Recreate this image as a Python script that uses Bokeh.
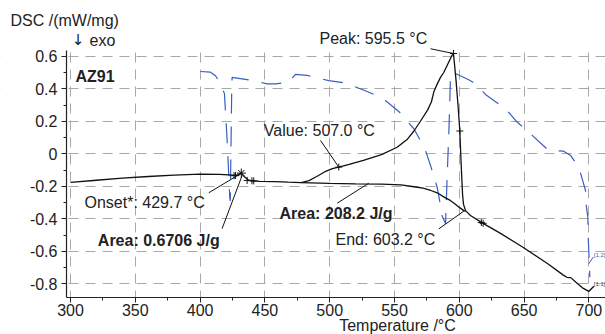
from bokeh.plotting import figure
from bokeh.models import Label, FixedTicker, Range1d, BoxAnnotation
from bokeh.embed import file_html
from bokeh.resources import INLINE

# --- data ---
dsc_T = [300, 320, 340, 360, 380, 400, 415, 422, 427.3, 429.5, 431.8, 434, 437.3, 441, 446, 458, 468, 478,
         484, 490, 496, 502, 507, 515, 526, 540, 552, 560, 565, 570, 575.6, 578.5, 580.5, 583, 585.5, 588,
         591.6, 594, 595.5, 597.5, 599, 600.4, 601.3, 602.5, 603.2, 604.8, 608.6, 617.7, 631.8, 650, 668,
         680, 683, 686, 690, 695, 699.9, 703.8]
dsc_v = [-0.176, -0.163, -0.150, -0.140, -0.131, -0.125, -0.127, -0.130, -0.133, -0.128, -0.119, -0.140,
         -0.162, -0.167, -0.170, -0.172, -0.175, -0.177, -0.165, -0.140, -0.112, -0.092, -0.082, -0.066,
         -0.040, -0.005, 0.040, 0.090, 0.140, 0.200, 0.270, 0.320, 0.385, 0.430, 0.470, 0.500, 0.560, 0.600,
         0.617, 0.450, 0.300, 0.140, -0.040, -0.250, -0.310, -0.350, -0.380, -0.425, -0.490, -0.580, -0.675,
         -0.745, -0.760, -0.762, -0.790, -0.825, -0.847, -0.815]

base_T = [478, 500, 520, 540, 555, 565, 572, 578, 583, 588, 593, 596, 600, 603.5, 604.8]
base_v = [-0.177, -0.182, -0.185, -0.187, -0.192, -0.203, -0.212, -0.226, -0.240, -0.265, -0.287, -0.305,
          -0.330, -0.350, -0.355]

ddsc_T = [400.3, 408, 411.9, 415.7, 418.8, 420.9, 422.9, 423.3, 423.8, 424.4, 424.7, 441, 451.8, 458.2, 468.4,
          473.6, 482.6, 494.2, 499.3, 512.2, 528.4, 539.2, 544.4, 553.3, 564.9, 571.4, 573.9, 577.8, 582.9,
          585.5, 586.6, 589.4, 590.6, 591.9, 592.7, 593.2, 594, 596.3, 607.3, 612.5, 620.2, 635.6, 643.4,
          647.2, 656.2, 669, 680.6, 685.8, 692.2, 697.4, 698.1, 699.2, 699.3, 700, 700.7]
ddsc_v = [0.506, 0.502, 0.480, 0.430, 0.370, 0.080, -0.270, -0.290, 0.020, 0.390, 0.470, 0.450, 0.430, 0.430,
          0.440, 0.488, 0.482, 0.460, 0.450, 0.435, 0.385, 0.348, 0.318, 0.260, 0.154, 0.062, 0.020, -0.072,
          -0.206, -0.318, -0.380, -0.430, -0.144, 0.123, 0.330, 0.490, 0.500, 0.496, 0.455, 0.430, 0.365,
          0.277, 0.205, 0.177, 0.113, 0.020, 0.016, -0.010, -0.082, -0.226, -0.330, -0.390, -0.480, -0.615,
          -0.760]

marker_T = [426.2, 427.3, 436.3, 440.0, 441.4, 507.0, 595.5, 600.4, 617.0, 618.4]
marker_v = [-0.135, -0.133, -0.164, -0.166, -0.167, -0.082, 0.617, 0.140, -0.423, -0.428]
onset_T = [431.8]
onset_v = [-0.119]

x_ticks = [300, 350, 400, 450, 500, 550, 600, 650, 700]
x_minor = [325, 375, 425, 475, 525, 575, 625, 675]
y_ticks = [-0.8, -0.6, -0.4, -0.2, 0.0, 0.2, 0.4, 0.6]
y_minor = [-0.7, -0.5, -0.3, -0.1, 0.1, 0.3, 0.5]
y_tick_labels = ["-0.8", "-0.6", "-0.4", "-0.2", "0", "0.2", "0.4", "0.6"]

# annotations
ann_text = ["Peak: 595.5 °C", "Value: 507.0 °C", "Onset*: 429.7 °C", "Area: 0.6706 J/g",
            "Area: 208.2 J/g", "End: 603.2 °C"]
ann_x = [492.1, 449.2, 310.8, 321.1, 461.3, 504.5]
ann_y = [0.708, 0.143, -0.298, -0.534, -0.369, -0.527]
ann_bold = [False, False, False, True, True, False]
lead_x0 = [577.8, 492.9, 406.7, 417.0, 505.8, 584.2]
lead_y0 = [0.646, 0.082, -0.240, -0.460, -0.304, -0.462]
lead_x1 = [595.5, 507.0, 431.7, 432.4, 530.2, 603.5]
lead_y1 = [0.617, -0.082, -0.120, -0.134, -0.181, -0.353]

FONT = "Liberation Sans"
FS = "16px"
X_LO, X_AX_LO, X_HI = 246.0, 296.9, 712.8
Y_LO, Y_AX_LO, Y_AX_TOP, Y_HI = -1.112, -0.884, 0.636, 0.943

p = figure(width=605, height=334, output_backend="svg", toolbar_location=None,
           x_range=Range1d(X_LO, X_HI), y_range=Range1d(Y_LO, Y_HI),
           min_border_left=0, min_border_right=0, min_border_top=0, min_border_bottom=0)
p.outline_line_color = None
p.background_fill_color = "white"
p.border_fill_color = "white"

for ax in (p.xaxis[0], p.yaxis[0]):
    ax.axis_line_color = "#222222"
    ax.axis_line_width = 1.2
    ax.major_tick_out = 5
    ax.major_tick_in = 0
    ax.minor_tick_out = 3
    ax.minor_tick_in = 0
    ax.major_tick_line_color = "#222222"
    ax.minor_tick_line_color = "#222222"
    ax.major_label_text_font = FONT
    ax.major_label_text_font_size = FS
    ax.major_label_text_color = "#222222"

p.xaxis.ticker = FixedTicker(ticks=x_ticks, minor_ticks=x_minor)
p.yaxis.ticker = FixedTicker(ticks=y_ticks, minor_ticks=y_minor)
p.yaxis.major_label_overrides = {t: l for t, l in zip(y_ticks, y_tick_labels)}
p.yaxis.bounds = (Y_AX_LO, Y_AX_TOP)
p.xaxis.bounds = (X_AX_LO, X_HI)
p.yaxis.fixed_location = X_AX_LO
p.xaxis.fixed_location = Y_AX_LO
p.xaxis.major_label_standoff = 2
p.yaxis.major_label_standoff = 4

p.grid.grid_line_color = "#a8a8a8"
p.grid.grid_line_dash = "10 7"
p.grid.grid_line_width = 1

# keep grid lines inside the plotting area only
for kw in (dict(bottom=Y_AX_TOP), dict(top=Y_AX_LO), dict(right=X_AX_LO)):
    p.add_layout(BoxAnnotation(fill_color="white", fill_alpha=1.0, line_color=None,
                               level="underlay", **kw))

p.line(ddsc_T, ddsc_v, color="#3a5ec0", line_width=1.2, line_dash="20 13")
p.line(base_T, base_v, color="#111111", line_width=1.3)
p.line(dsc_T, dsc_v, color="#111111", line_width=1.3)
p.segment(lead_x0, lead_y0, lead_x1, lead_y1, color="#111111", line_width=1)
p.scatter(marker_T, marker_v, marker="cross", size=7, color="#111111", line_width=1)
p.scatter(onset_T, onset_v, marker="asterisk", size=9, color="#111111", line_width=1)

for t, x, y, b in zip(ann_text, ann_x, ann_y, ann_bold):
    p.add_layout(Label(x=x, y=y, text=t, text_font=FONT, text_font_size=FS,
                       text_font_style="bold" if b else "normal", text_color="#222222",
                       text_baseline="middle", text_align="left"))

p.add_layout(Label(x=303.9, y=0.476, text="AZ91", text_font=FONT, text_font_size=FS,
                   text_font_style="bold", text_color="#222222", text_baseline="middle"))
p.add_layout(Label(x=253.7, y=0.82, text="DSC /(mW/mg)", text_font=FONT, text_font_size=FS,
                   text_color="#222222", text_baseline="middle"))
p.add_layout(Label(x=301.0, y=0.697, text="↓", text_font="DejaVu Sans", text_font_size="15px",
                   text_color="#222222", text_baseline="middle"))
p.add_layout(Label(x=314.7, y=0.697, text="exo", text_font=FONT, text_font_size=FS,
                   text_color="#222222", text_baseline="middle"))
p.add_layout(Label(x=552.3, y=-1.054, text="Temperature /°C", text_font=FONT, text_font_size=FS,
                   text_color="#222222", text_baseline="middle", text_align="center"))
p.add_layout(Label(x=703.8, y=-0.62, text="[1.2]", text_font=FONT, text_font_size="6px",
                   text_color="#3a5ec0", text_baseline="middle"))
p.add_layout(Label(x=703.8, y=-0.80, text="[1.1]", text_font=FONT, text_font_size="6px",
                   text_color="#444444", text_baseline="middle"))
p.segment([699.9], [-0.677], [703.3], [-0.636], color="#3a5ec0", line_width=1)

open("out.html", "w").write(file_html(p, INLINE))
